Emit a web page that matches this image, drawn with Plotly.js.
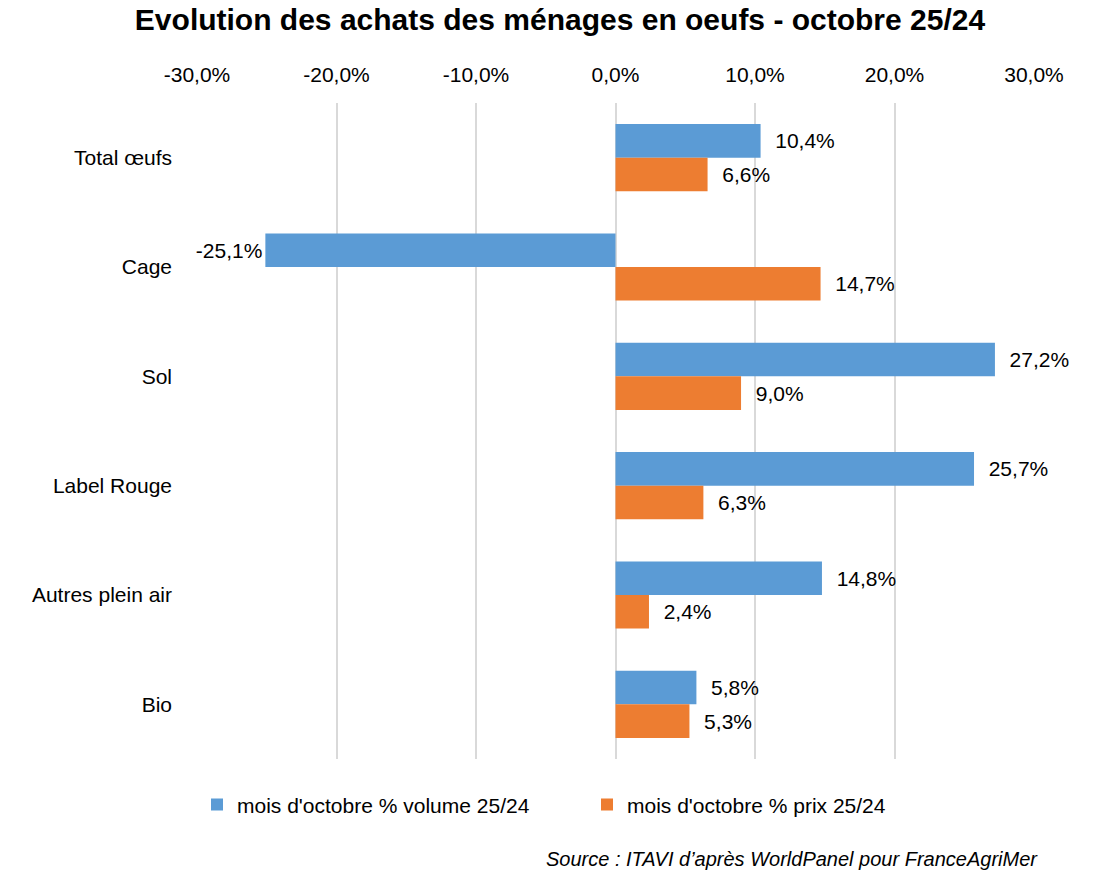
<!DOCTYPE html>
<html><head><meta charset="utf-8">
<script src="https://cdn.plot.ly/plotly-3.0.1.min.js"></script>
<style>body{margin:0;background:#fff}</style>
</head><body>
<div id="chart" style="width:1120px;height:886px"></div>
<script>
const categories = ["Total œufs", "Cage", "Sol", "Label Rouge", "Autres plein air", "Bio"];
const volume = [10.4, -25.1, 27.2, 25.7, 14.8, 5.8];
const prix = [6.6, 14.7, 9.0, 6.3, 2.4, 5.3];
const tickVals = [-30, -20, -10, 0, 10, 20, 30];
const tickText = ["-30,0%", "-20,0%", "-10,0%", "0,0%", "10,0%", "20,0%", "30,0%"];
const seriesNames = ["mois d'octobre % volume 25/24", "mois d'octobre % prix 25/24"];

const FONT = '"Liberation Sans Narrow", "Arial Narrow", "Liberation Sans", sans-serif';

function fmt(v){
  const s = v.toFixed(1).replace('.', ',') + '%';
  return v < 0 ? s : '\u00a0\u00a0' + s;
}

const traces = [
  {type:'bar', orientation:'h', name:seriesNames[0], y:categories, x:volume,
   marker:{color:'#5B9BD5'}, text:volume.map(fmt), textposition:'outside',
   textfont:{size:21, color:'#000', family:FONT}, cliponaxis:false, hoverinfo:'x+y'},
  {type:'bar', orientation:'h', name:seriesNames[1], y:categories, x:prix,
   marker:{color:'#ED7D31'}, text:prix.map(fmt), textposition:'outside',
   textfont:{size:21, color:'#000', family:FONT}, cliponaxis:false, hoverinfo:'x+y'}
];

const layout = {
  width:1120, height:886,
  margin:{l:197, r:86, t:103, b:127},
  paper_bgcolor:'#fff', plot_bgcolor:'#fff',
  font:{family:FONT, color:'#000', size:21},
  title:{text:'<b>Evolution des achats des ménages en oeufs - octobre 25/24</b>',
         font:{family:FONT, size:30, color:'#000'}, x:0.5, xanchor:'center', y:0.978, yanchor:'middle'},
  barmode:'group', bargap:0.385, bargroupgap:0,
  xaxis:{side:'top', range:[-30,30], tickvals:tickVals, ticktext:tickText,
         showgrid:true, gridcolor:'#d9d9d9', gridwidth:1.5, zeroline:false,
         showline:false, ticks:'', ticklabelstandoff:16, tickfont:{size:21, family:FONT}},
  yaxis:{autorange:'reversed', showgrid:false, zeroline:false, showline:false, ticks:'',
         ticklabelstandoff:24, tickfont:{size:21, family:FONT}},
  legend:{orientation:'h', x:0.0, xanchor:'left', y:-0.07, yanchor:'middle',
          entrywidth:345, entrywidthmode:'pixels',
          font:{size:21, family:FONT}, itemwidth:30, traceorder:'normal'},
  showlegend:true,
  annotations:[{text:'<i>Source : ITAVI d’après WorldPanel pour FranceAgriMer</i>', xref:'paper', yref:'paper',
    x:1.007, y:-0.153, xanchor:'right', yanchor:'middle', showarrow:false,
    font:{size:20, family:FONT, color:'#000'}}]
};

Plotly.newPlot('chart', traces, layout, {displayModeBar:false});
</script>
</body></html>
